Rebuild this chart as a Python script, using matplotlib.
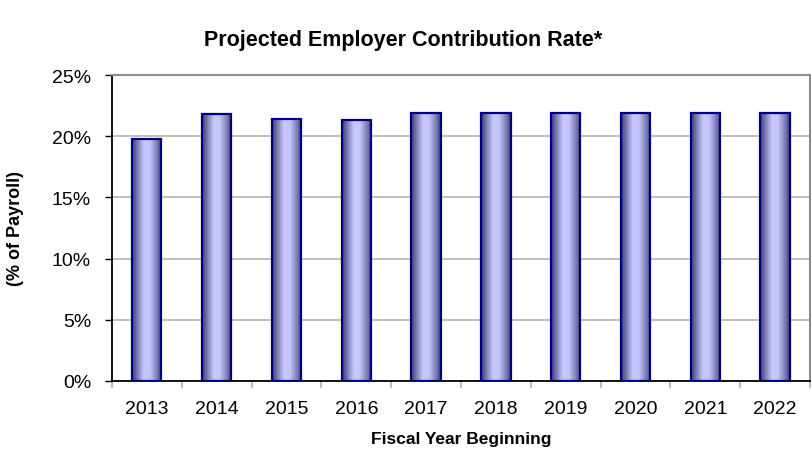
import numpy as np
import matplotlib
matplotlib.use('Agg')
from matplotlib import pyplot as plt
from matplotlib.colors import LinearSegmentedColormap

plt.rcParams['font.family'] = ['Liberation Sans', 'DejaVu Sans']

# datos
years = ['2013', '2014', '2015', '2016', '2017', '2018', '2019', '2020', '2021', '2022']
rates = [19.8, 21.85, 21.45, 21.3, 21.9, 21.9, 21.9, 21.9, 21.9, 21.9]

fig = plt.figure(figsize=(8.11, 4.64), dpi=100)
ax = fig.add_axes([0.138, 0.177, 0.8608, 0.659])

x = np.arange(len(years))
bars = ax.bar(x, rates, width=0.42, color='none', edgecolor='#000080', linewidth=1.6, zorder=3)

# degradado horizontal dentro de cada barra
cmap = LinearSegmentedColormap.from_list('barra', [
    (0.0, '#3a3a78'), (0.15, '#7070a8'), (0.4, '#c8c8ff'),
    (0.6, '#c4c4fa'), (0.85, '#7a7ab4'), (1.0, '#3a3a78')])
grad = np.linspace(0, 1, 256).reshape(1, -1)
for b in bars:
    x0, w, h = b.get_x(), b.get_width(), b.get_height()
    im = ax.imshow(grad, cmap=cmap, aspect='auto', extent=[x0, x0 + w, 0, h],
                   zorder=2, interpolation='bilinear')
    im.set_clip_path(b)

ax.set_xlim(-0.5, len(years) - 0.5)
ax.set_ylim(0, 25)
ax.set_yticks(np.arange(0, 26, 5))
ax.set_yticklabels(['%d%%' % v for v in range(0, 26, 5)])
ax.yaxis.grid(True, color='#b4b4b4', linewidth=1.2, zorder=1)
ax.set_axisbelow(True)

ax.set_xticks(x)
ax.set_xticklabels(years)
ax.set_xticks(np.arange(-0.5, len(years)), minor=True)
ax.tick_params(axis='x', which='major', length=0, labelsize=14, pad=14)
ax.tick_params(axis='x', which='minor', length=5, color='#b0b0b0', width=1.2)
ax.tick_params(axis='y', length=5, width=1, labelsize=14, pad=10)

for s in ['top', 'right']:
    ax.spines[s].set_color('#8c8c8c')
    ax.spines[s].set_linewidth(1.5)
for s in ['left', 'bottom']:
    ax.spines[s].set_color('black')
    ax.spines[s].set_linewidth(1.3)

ax.set_xlabel('Fiscal Year Beginning', fontsize=12.5, fontweight='bold', labelpad=10)
ax.set_ylabel('(% of Payroll)', fontsize=13, fontweight='bold')
ax.yaxis.set_label_coords(-0.126, 0.5)
fig.text(0.497, 0.912, 'Projected Employer Contribution Rate*', ha='center', va='center',
         fontsize=15.5, fontweight='bold')

fig.savefig('out.png', dpi=100)
